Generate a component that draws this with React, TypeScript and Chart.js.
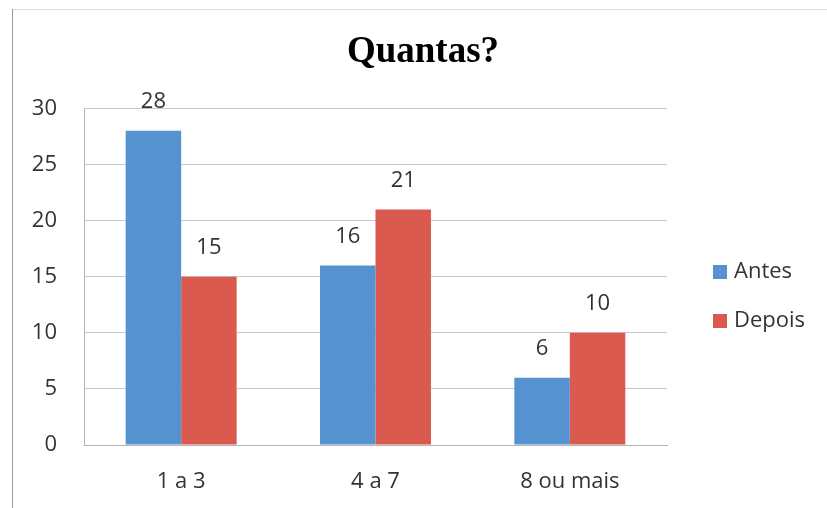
import React, { useEffect, useRef } from "react";
import { Chart, registerables } from "chart.js";

Chart.register(...registerables);

const categories = ["1 a 3", "4 a 7", "8 ou mais"];
const antes = [28, 16, 6];
const depois = [15, 21, 10];
const seriesNames = ["Antes", "Depois"];
const yTicksMin = 0;
const yTicksMax = 30;
const yTickStep = 5;
const chartTitle = "Quantas?";

const BLUE = "#5691d0";
const RED = "#db5a50";
const TEXT = "#333333";
const FONT = "'Open Sans'";
const FSIZE = 22;

const framePlugin = {
  id: "frame",
  beforeDraw(chart: any) {
    const ctx = chart.ctx;
    ctx.save();
    ctx.fillStyle = "#ffffff";
    ctx.fillRect(0, 0, chart.width, chart.height);
    ctx.lineWidth = 1;
    ctx.strokeStyle = "#dcdcdc";
    ctx.beginPath();
    ctx.moveTo(12, 9.5);
    ctx.lineTo(chart.width, 9.5);
    ctx.stroke();
    ctx.strokeStyle = "#9a9a9a";
    ctx.beginPath();
    ctx.moveTo(12.5, 9);
    ctx.lineTo(12.5, chart.height);
    ctx.stroke();
    ctx.restore();
  },
};

const valueLabelPlugin = {
  id: "valueLabels",
  afterDatasetsDraw(chart: any) {
    const ctx = chart.ctx;
    ctx.save();
    ctx.font = `${FSIZE}px ${FONT}`;
    ctx.fillStyle = TEXT;
    ctx.textAlign = "center";
    ctx.textBaseline = "middle";
    chart.data.datasets.forEach((ds: any, i: number) => {
      const meta = chart.getDatasetMeta(i);
      meta.data.forEach((el: any, j: number) => {
        ctx.fillText(String(ds.data[j]), el.x, el.y - 29);
      });
    });
    ctx.restore();
  },
};

const sideLegendPlugin = {
  id: "sideLegend",
  afterDraw(chart: any) {
    const ctx = chart.ctx;
    const area = chart.chartArea;
    ctx.save();
    ctx.font = `${FSIZE}px ${FONT}`;
    ctx.textAlign = "left";
    ctx.textBaseline = "middle";
    chart.data.datasets.forEach((ds: any, i: number) => {
      const cy = 272 + i * 49;
      const bx = area.right + 46;
      ctx.fillStyle = ds.backgroundColor;
      ctx.fillRect(bx, cy - 7, 14, 14);
      ctx.fillStyle = TEXT;
      ctx.fillText(ds.label, bx + 21, cy);
    });
    ctx.restore();
  },
};

export default function App() {
  const ref = useRef<HTMLCanvasElement | null>(null);

  useEffect(() => {
    document.body.style.margin = "0";
    if (!ref.current) return;
    const chart = new Chart(ref.current, {
      type: "bar",
      data: {
        labels: categories,
        datasets: [
          { label: seriesNames[0], data: antes, backgroundColor: BLUE, yAxisID: "y" },
          { label: seriesNames[1], data: depois, backgroundColor: RED, yAxisID: "y" },
        ],
      },
      options: {
        responsive: false,
        animation: false,
        devicePixelRatio: 1,
        layout: { padding: { left: 19, right: 0, top: 0, bottom: 0 } },
        datasets: {
          bar: { barPercentage: 1, categoryPercentage: 0.571 },
        },
        plugins: {
          legend: { display: false },
          tooltip: { enabled: false },
          title: {
            display: true,
            text: chartTitle,
            color: "#000000",
            font: { family: "Liberation Serif", size: 37, weight: "bold" },
            padding: { top: 30, bottom: 34 },
          },
        },
        scales: {
          x: {
            grid: { display: false, drawTicks: false },
            border: { display: true, color: "#b4b4b4", width: 1 },
            ticks: {
              color: TEXT,
              font: { family: "Open Sans", size: FSIZE },
              padding: 24,
              maxRotation: 0,
            },
            afterFit(s: any) {
              s.height = 63;
            },
          },
          y: {
            min: yTicksMin,
            max: yTicksMax,
            position: "left",
            grid: { color: "#c8c8c8", drawTicks: false },
            border: { display: true, color: "#b4b4b4", width: 1 },
            ticks: {
              stepSize: yTickStep,
              color: TEXT,
              font: { family: "Open Sans", size: FSIZE },
              padding: 27,
            },
            afterFit(s: any) {
              s.width = 65;
            },
          },
          yR: {
            type: "linear",
            position: "right",
            display: true,
            grid: { display: false, drawTicks: false },
            border: { display: false },
            ticks: { display: false },
            afterFit(s: any) {
              s.width = 160;
            },
          },
        },
      },
      plugins: [framePlugin, valueLabelPlugin, sideLegendPlugin],
    } as any);
    return () => chart.destroy();
  }, []);

  return (
    <div style={{ position: "fixed", left: 0, top: 0, width: 827, height: 508 }}>
      <canvas ref={ref} width={827} height={508} style={{ display: "block" }} />
    </div>
  );
}
